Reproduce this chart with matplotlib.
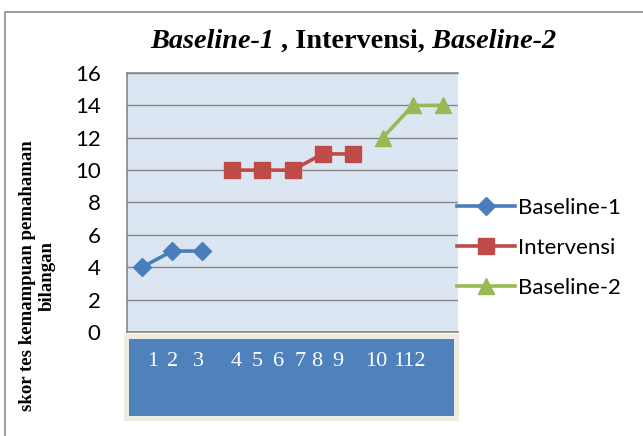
import matplotlib.pyplot as plt
from matplotlib.patches import Rectangle

# ==========================================
# Data
# ==========================================

baseline1_x = [1, 2, 3]
baseline1_y = [4, 5, 5]
interv_x = [4, 5, 6, 7, 8]
interv_y = [10, 10, 10, 11, 11]
baseline2_x = [9, 10, 11]
baseline2_y = [12, 14, 14]
table_labels = ["1", "2", "3", "4", "5", "6", "7", "8", "9", "10", "112"]
yticks = list(range(0, 17, 2))

# left edge (px inside the box) of each label in the category box
label_offsets = [23, 43, 69, 107, 128, 149, 171, 187, 208, 241, 269]

# ==========================================
# Figure
# ==========================================

W, H = 643, 436
fig = plt.figure(figsize=(W / 100, H / 100), dpi=100)

# outer chart border (cropped at right/bottom)
fig.patches.append(Rectangle((5 / W, -0.01), 1.0, 1 - 12 / H + 0.01,
                             transform=fig.transFigure, fill=False,
                             edgecolor="#8c8c8c", linewidth=1.2))

ax = fig.add_axes([127 / W, 1 - 332 / H, 331 / W, 259 / H])
ax.set_facecolor("#DCE6F2")

ax.plot(baseline1_x, baseline1_y, color="#4A7EBB", lw=2.6, marker="D",
        ms=9, label="Baseline-1")
ax.plot(interv_x, interv_y, color="#BE4B48", lw=2.6, marker="s",
        ms=11, label="Intervensi")
ax.plot(baseline2_x, baseline2_y, color="#98B954", lw=2.6, marker="^",
        ms=11, label="Baseline-2")

ax.set_xlim(0.5, 11.5)
ax.set_ylim(0, 16)
ax.set_yticks(yticks)
ax.set_xticks([])
ax.yaxis.grid(True, color="#868686", lw=1)
ax.set_axisbelow(True)
ax.tick_params(axis="y", length=0, pad=19, labelsize=16)
for lab in ax.get_yticklabels():
    lab.set_family("Lato")
for side in ["top", "left", "bottom", "right"]:
    ax.spines[side].set_color("#868686")
    ax.spines[side].set_linewidth(1.2)
ax.spines["right"].set_visible(False)

ax.set_ylabel("skor tes kemampuan pemahaman\nbilangan", family="Liberation Serif",
              fontweight="bold", fontsize=13.5, linespacing=1.25)
ax.yaxis.set_label_coords(-0.215, 0.216)

# ==========================================
# Title (mixed italic / upright)
# ==========================================

t1 = fig.text(150 / W, 1 - 41 / H, "Baseline-1", family="Liberation Serif",
              fontweight="bold", style="italic", fontsize=20.3, va="center")
t2 = ax.annotate(" , Intervensi,", xy=(1, 0), xycoords=t1, va="bottom",
                 family="Liberation Serif", fontweight="bold", fontsize=20.3,
                 annotation_clip=False)
ax.annotate(" Baseline-2", xy=(1, 0), xycoords=t2, va="bottom",
            family="Liberation Serif", fontweight="bold", style="italic",
            fontsize=20.3, annotation_clip=False)

# ==========================================
# Category box below plot
# ==========================================

tab = fig.add_axes([124 / W, 1 - 421 / H, 335 / W, 87 / H])
tab.set_xlim(0, 335)
tab.set_ylim(87, 0)
tab.axis("off")
tab.add_patch(Rectangle((0, 0), 335, 87, facecolor="#EEECE1", edgecolor="none"))
tab.add_patch(Rectangle((5, 5), 325, 77, facecolor="#4F81BD", edgecolor="none"))
for lab, off in zip(table_labels, label_offsets):
    tab.text(off, 27, lab, color="white", family="Liberation Serif",
             fontsize=16, va="center", ha="left")

# ==========================================
# Legend
# ==========================================

leg = ax.legend(loc="center left", bbox_to_anchor=(0.97, 0.326), frameon=False,
                prop={"family": "Lato", "size": 16}, handlelength=2.6,
                handletextpad=0.15, labelspacing=0.9, borderaxespad=0)

fig.savefig("out.png", dpi=100)
